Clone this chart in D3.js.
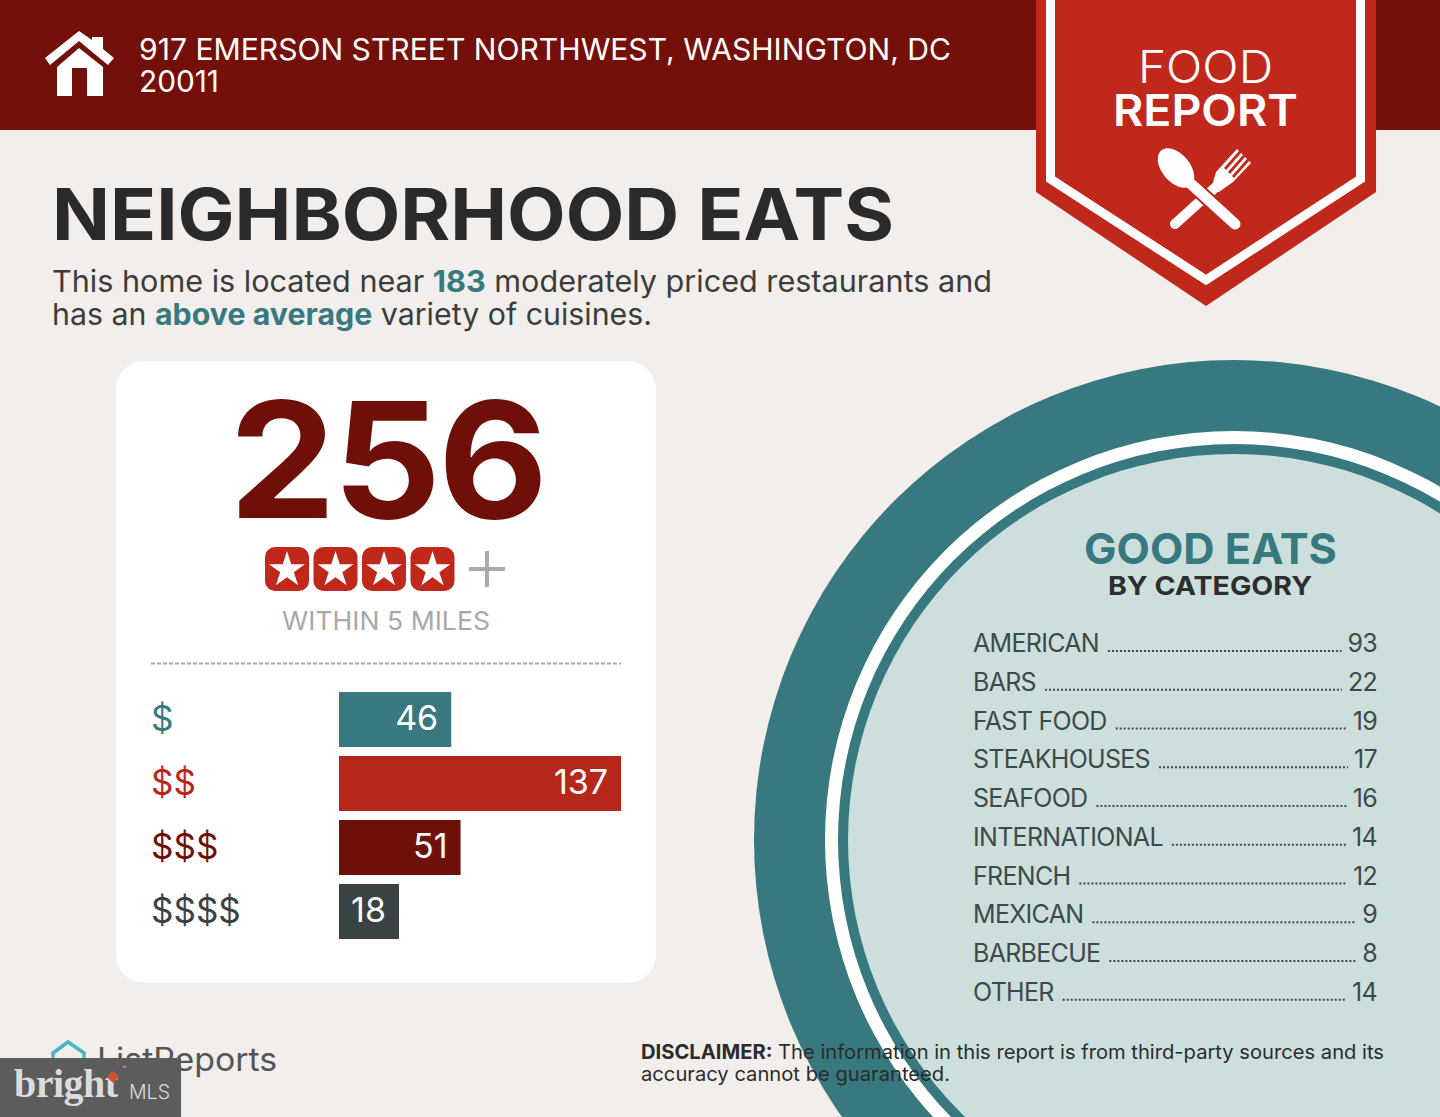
<!DOCTYPE html>
<html><head><meta charset="utf-8">
<script src="https://cdn.jsdelivr.net/npm/d3@7/dist/d3.min.js"></script>
<style>html,body{margin:0;padding:0;background:#f2eeeb;overflow:hidden}svg{display:block}text{font-family:Inter,"Open Sans",sans-serif}</style>
</head><body><svg id="c" width="1440" height="1117"></svg>
<script>
const priceLabels=["$","$$","$$$","$$$$"];
const priceValues=[46,137,51,18];
const priceColors=["#38797f","#b7261a","#6e0f08","#3a4344"];
const categories=["AMERICAN","BARS","FAST FOOD","STEAKHOUSES","SEAFOOD","INTERNATIONAL","FRENCH","MEXICAN","BARBECUE","OTHER"];
const categoryValues=[93,22,19,17,16,14,12,9,8,14];
const starBadges=[1,2,3,4];

const svg=d3.select("#c");
const DARK="#73100a",RED="#c1281c",TEAL="#38797f";
function fit(sel,w){return sel.attr("textLength",w).attr("lengthAdjust","spacingAndGlyphs");}
function txt(x,y,s,size,weight,fill,w,anchor){const t=svg.append("text").attr("x",x).attr("y",y).attr("font-size",size).attr("font-weight",weight).attr("fill",fill).attr("text-anchor",anchor||"start").text(s);if(w)fit(t,w);return t;}
const poly=(p,fill)=>svg.append("polygon").attr("points",p.map(d=>d.join(",")).join(" ")).attr("fill",fill);

// plate
const cx=1234,cy=840;
[[480,TEAL],[409,"#fff"],[396,TEAL],[386,"#cddfdd"]].forEach(([r,f])=>svg.append("circle").attr("cx",cx).attr("cy",cy).attr("r",r).attr("fill",f));

// header
svg.append("rect").attr("width",1440).attr("height",130).attr("fill",DARK);
poly([[79,31],[92,40],[92,37],[103,37],[103,49],[114,58],[108,65],[79,41],[50,65],[45,58]],"#fff");
poly([[57,67],[79,48],[103,67],[103,96],[87,96],[87,68],[72,68],[72,96],[57,96]],"#fff");
txt(139,60,"917 EMERSON STREET NORTHWEST, WASHINGTON, DC",30,400,"#fff",812);
txt(139,92,"20011",30,400,"#fff",80);

// ribbon
poly([[1036,0],[1376,0],[1376,192],[1206,306],[1036,192]],RED);
svg.append("polyline").attr("points","1050.5,0 1050.5,179 1206,280 1360.5,179 1360.5,0").attr("fill","none").attr("stroke","#fff").attr("stroke-width",9);
txt(1138,83,"FOOD",45,300,"#fff",135);
txt(1113,126,"REPORT",44,600,"#fff",185);
// spoon & fork
const icon=svg.append("g").attr("fill","#fff").attr("stroke","#fff");
icon.append("line").attr("x1",1175).attr("y1",224).attr("x2",1217).attr("y2",186).attr("stroke-width",10).attr("stroke-linecap","round");
icon.append("path").attr("stroke","none").attr("d","M1212 186 L1216 172 L1237 149 L1239 151 L1224 168 L1226 170 L1241 153 L1243 155 L1228 172 L1230 174 L1245 157 L1247 159 L1232 176 L1234 178 L1249 161 L1251 163 L1233 182 L1219 192Z");
icon.append("line").attr("x1",1190).attr("y1",183).attr("x2",1235).attr("y2",224).attr("stroke-linecap","butt").attr("stroke","#c1281c").attr("stroke-width",15);
icon.append("line").attr("x1",1190).attr("y1",183).attr("x2",1235).attr("y2",224).attr("stroke-width",11).attr("stroke-linecap","round");
icon.append("ellipse").attr("stroke","none").attr("rx",23).attr("ry",14).attr("transform","translate(1176,168) rotate(50)");

// headings
txt(52,240,"NEIGHBORHOOD EATS",71,700,"#2a2a2a",842);
const sub1=txt(52,292,"",30,400,"#3c3c3c");
sub1.append("tspan").text("This home is located near ");
sub1.append("tspan").attr("font-weight",700).attr("fill",TEAL).text("183");
sub1.append("tspan").text(" moderately priced restaurants and");
fit(sub1,940);
const sub2=txt(52,325,"",30,400,"#3c3c3c");
sub2.append("tspan").text("has an ");
sub2.append("tspan").attr("font-weight",700).attr("fill",TEAL).text("above average");
sub2.append("tspan").text(" variety of cuisines.");
fit(sub2,600);

// card
svg.append("rect").attr("x",116).attr("y",361).attr("width",540).attr("height",622).attr("rx",28).attr("fill","#fff");
txt(229,518,"256",161,700,"#6e0f08").attr("letter-spacing",-3).attr("textLength",316).attr("lengthAdjust","spacingAndGlyphs");
const sx=d3.scalePoint().domain(starBadges).range([287,432.5]);
svg.selectAll(".badge").data(starBadges).join("rect").attr("class","badge").attr("x",d=>sx(d)-22).attr("y",547).attr("width",44).attr("height",44).attr("rx",10).attr("fill",RED);
svg.selectAll(".star").data(starBadges).join("path").attr("class","star").attr("d",d3.symbol(d3.symbolStar,400)).attr("transform",d=>`translate(${sx(d)},570)`).attr("fill","#fff");
svg.append("path").attr("d","M469 569H505M487 551V587").attr("stroke","#aaa").attr("stroke-width",4).attr("fill","none");
txt(282,630,"WITHIN 5 MILES",26,400,"#a8a8a8",208);
svg.append("line").attr("x1",151).attr("x2",621).attr("y1",663.5).attr("y2",663.5).attr("stroke","#aaa").attr("stroke-width",2).attr("stroke-dasharray","4 2");

// price bars
const x=d3.scaleLinear().domain([-14.15,137]).range([339,621]);
const y=d3.scaleBand().domain(priceLabels).range([692,939]).paddingInner(9/64).paddingOuter(0);
const g=svg.append("g");
g.selectAll("rect").data(priceLabels).join("rect").attr("x",x.range()[0]).attr("y",d=>y(d)).attr("height",y.bandwidth()).attr("width",(d,i)=>x(priceValues[i])-x.range()[0]).attr("fill",(d,i)=>priceColors[i]);
g.selectAll(".pl").data(priceLabels).join("text").attr("class","pl").attr("x",151).attr("y",d=>y(d)+39).attr("font-size",35).attr("fill",(d,i)=>priceColors[i]).text(d=>d);
g.selectAll(".pv").data(priceValues).join("text").attr("class","pv").attr("x",d=>x(d)-13).attr("y",(d,i)=>y(priceLabels[i])+38).attr("font-size",34).attr("fill","#fff").attr("text-anchor","end").text(d=>d);

// categories
txt(1084,564,"GOOD EATS",43,700,TEAL,253);
txt(1108,595,"BY CATEGORY",26,700,"#2e2e2e",204);
const ry=d3.scalePoint().domain(categories).range([652,1000.75]);
const rows=svg.append("g").selectAll("g").data(categories).join("g").attr("transform",d=>`translate(0,${ry(d)})`);
rows.each(function(d,i){
  const r=d3.select(this);
  const a=r.append("text").attr("x",973).attr("font-size",25).attr("fill","#3d4a4a").attr("letter-spacing",-0.7).text(d);
  const b=r.append("text").attr("x",1377).attr("font-size",25).attr("fill","#3d4a4a").attr("text-anchor","end").attr("letter-spacing",-0.7).text(categoryValues[i]);
  const x1=973+a.node().getComputedTextLength()+9, x2=1377-b.node().getComputedTextLength()-6;
  r.append("line").attr("x1",x1).attr("x2",x2).attr("y1",-1).attr("y2",-1).attr("stroke","#3d4a4a").attr("stroke-width",2).attr("stroke-dasharray","2 2");
});

// footer
svg.append("path").attr("d","M53 1058 V1053 L68 1042 L84 1053 V1058").attr("fill","none").attr("stroke","#4ab5bd").attr("stroke-width",3.5);
txt(97,1071,"ListReports",32,400,"#555",180);
const d1=txt(641,1059,"",20,400,"#2b2b2b");
d1.append("tspan").attr("font-weight",700).text("DISCLAIMER:");
d1.append("tspan").text(" The information in this report is from third-party sources and its");
fit(d1,743);
txt(641,1081,"accuracy cannot be guaranteed.",20,400,"#2b2b2b",309);
svg.append("rect").attr("x",0).attr("y",1058).attr("width",181).attr("height",59).attr("fill","#5c5c5c");
svg.append("text").attr("x",14).attr("y",1097).attr("font-size",40).attr("font-weight",700).attr("fill","#dcdcdc").style("font-family","'Liberation Serif',serif").attr("letter-spacing",-0.5).text("bright");
svg.append("path").attr("d","M113 1071L119 1077L113 1083L107 1077Z").attr("fill","#d0512f");
txt(129,1099,"MLS",20,300,"#dcdcdc",41);
txt(122,1072,"™",7,400,"#dcdcdc");
</script></body></html>
